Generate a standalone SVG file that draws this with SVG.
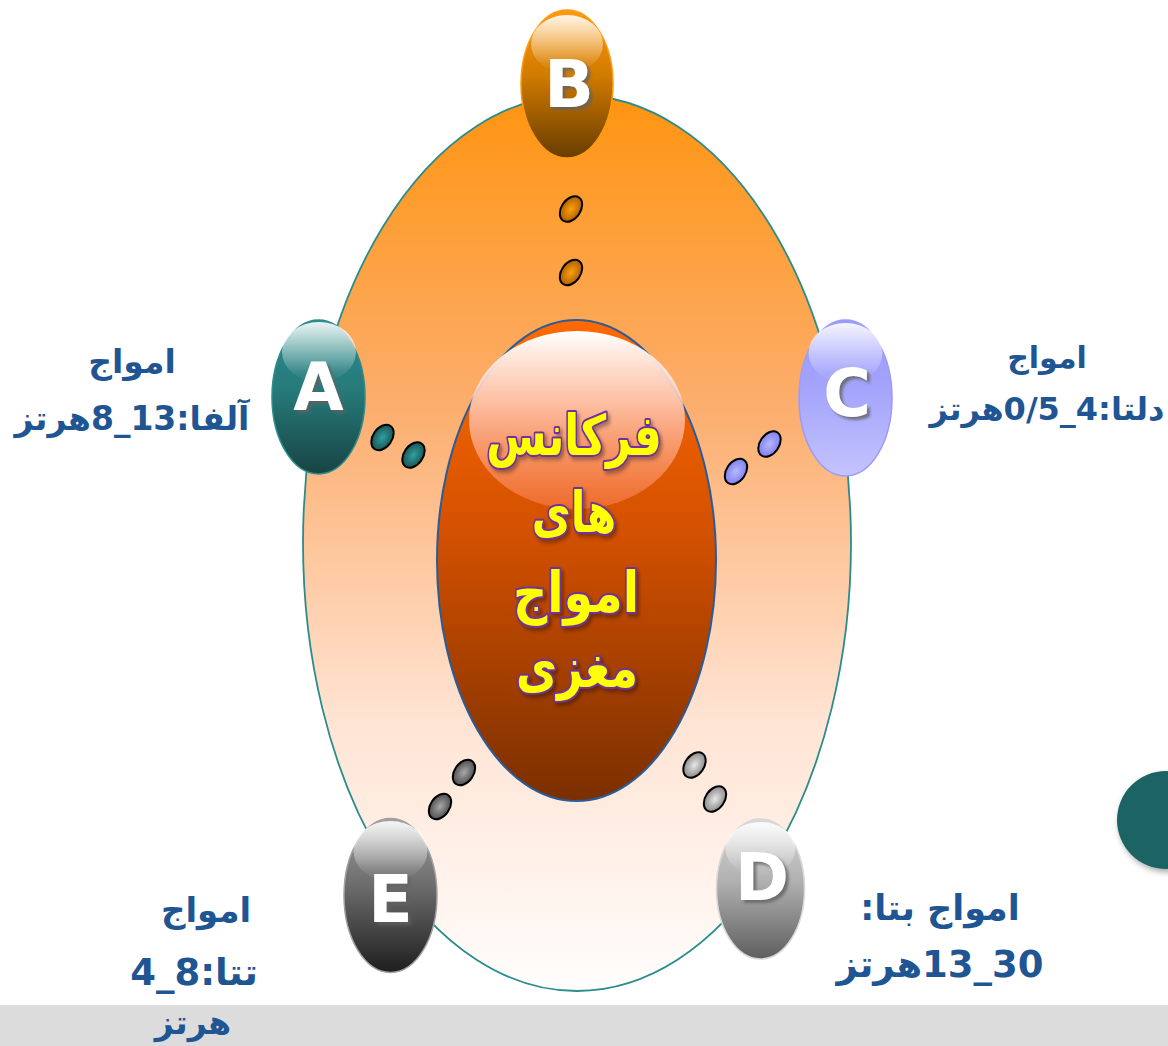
<svg xmlns="http://www.w3.org/2000/svg" width="1168" height="1046" viewBox="0 0 1168 1046">
<defs>
<style>
.lbl{font-family:"DejaVu Sans","Liberation Sans",sans-serif;font-weight:bold;fill:#1f5592;text-anchor:middle}
.ltr{font-family:"DejaVu Sans","Liberation Sans",sans-serif;font-weight:bold;fill:#ffffff;text-anchor:middle;filter:url(#tsh)}
.ctr{font-family:"DejaVu Sans",sans-serif;font-weight:bold;fill:#ffff00;stroke:#7030a0;stroke-width:4;stroke-linejoin:round;paint-order:stroke;text-anchor:middle;font-size:56px;filter:url(#csh)}
.dot{stroke:#000;stroke-width:2}
.gloss{fill:url(#gloss)}
</style>
<linearGradient id="outerG" x1="0" y1="0" x2="0" y2="1">
<stop offset="0" stop-color="#ff9410"/>
<stop offset="0.35" stop-color="#fcae6e"/>
<stop offset="0.7" stop-color="#ffe4d4"/>
<stop offset="1" stop-color="#fffdfc"/>
</linearGradient>
<linearGradient id="innerG" x1="0" y1="0" x2="0" y2="1">
<stop offset="0" stop-color="#ff6a00"/>
<stop offset="0.45" stop-color="#d25000"/>
<stop offset="1" stop-color="#7a2f00"/>
</linearGradient>
<linearGradient id="innerGloss" x1="0" y1="0" x2="0" y2="1">
<stop offset="0" stop-color="#ffffff" stop-opacity="1"/>
<stop offset="0.4" stop-color="#ffd0c0" stop-opacity="0.85"/>
<stop offset="1" stop-color="#ff8050" stop-opacity="0.55"/>
</linearGradient>
<linearGradient id="gloss" x1="0" y1="0" x2="0" y2="1">
<stop offset="0" stop-color="#ffffff" stop-opacity="0.9"/>
<stop offset="0.85" stop-color="#ffffff" stop-opacity="0.08"/>
<stop offset="1" stop-color="#ffffff" stop-opacity="0.02"/>
</linearGradient>
<linearGradient id="gB" x1="0" y1="0" x2="0" y2="1">
<stop offset="0" stop-color="#ff9a10"/>
<stop offset="0.45" stop-color="#d07a00"/>
<stop offset="1" stop-color="#683c00"/>
</linearGradient>
<linearGradient id="gA" x1="0" y1="0" x2="0" y2="1">
<stop offset="0" stop-color="#2e8c8c"/>
<stop offset="0.45" stop-color="#267a7a"/>
<stop offset="1" stop-color="#184444"/>
</linearGradient>
<linearGradient id="gC" x1="0" y1="0" x2="0" y2="1">
<stop offset="0" stop-color="#9a9aff"/>
<stop offset="0.45" stop-color="#a4a4fc"/>
<stop offset="1" stop-color="#c4c4fe"/>
</linearGradient>
<linearGradient id="gD" x1="0" y1="0" x2="0" y2="1">
<stop offset="0" stop-color="#d8d8d8"/>
<stop offset="0.45" stop-color="#b0b0b0"/>
<stop offset="1" stop-color="#5e5e5e"/>
</linearGradient>
<linearGradient id="gE" x1="0" y1="0" x2="0" y2="1">
<stop offset="0" stop-color="#a0a0a0"/>
<stop offset="0.45" stop-color="#6a6a6a"/>
<stop offset="1" stop-color="#1e1e1e"/>
</linearGradient>
<radialGradient id="dB" cx="0.5" cy="0.5" r="0.5"><stop offset="0" stop-color="#ffa010"/><stop offset="1" stop-color="#b06000"/></radialGradient>
<radialGradient id="dA" cx="0.5" cy="0.5" r="0.5"><stop offset="0" stop-color="#30a0a0"/><stop offset="1" stop-color="#1a5656"/></radialGradient>
<radialGradient id="dC" cx="0.5" cy="0.5" r="0.5"><stop offset="0" stop-color="#b8b8ff"/><stop offset="1" stop-color="#8080f0"/></radialGradient>
<radialGradient id="dD" cx="0.5" cy="0.5" r="0.5"><stop offset="0" stop-color="#e8e8e8"/><stop offset="1" stop-color="#8c8c8c"/></radialGradient>
<radialGradient id="dE" cx="0.5" cy="0.5" r="0.5"><stop offset="0" stop-color="#a8a8a8"/><stop offset="1" stop-color="#505050"/></radialGradient>
<filter id="tsh" x="-30%" y="-30%" width="160%" height="160%">
<feDropShadow dx="3" dy="3" stdDeviation="1.5" flood-color="#606060" flood-opacity="0.8"/>
</filter>
<filter id="csh" x="-20%" y="-20%" width="140%" height="140%">
<feDropShadow dx="3" dy="3" stdDeviation="2" flood-color="#000000" flood-opacity="0.35"/>
</filter>
<filter id="nsh" x="-30%" y="-30%" width="160%" height="160%">
<feDropShadow dx="2" dy="3" stdDeviation="3" flood-color="#000000" flood-opacity="0.35"/>
</filter>
</defs>

<rect x="0" y="0" width="1168" height="1046" fill="#ffffff"/>
<rect x="0" y="1005" width="1168" height="41" fill="#dcdcdc"/>

<g id="outer">
<ellipse cx="577" cy="543" rx="274" ry="448" fill="url(#outerG)" stroke="#2a8c8c" stroke-width="1.8"/>
</g>

<g id="center">
<ellipse cx="576.5" cy="560.5" rx="139.5" ry="240.5" fill="url(#innerG)" stroke="#2a5c9a" stroke-width="2"/>
<ellipse cx="577" cy="420" rx="108" ry="89" fill="url(#innerGloss)"/>
<g transform="translate(574 0) scale(0.78 1)"><text class="ctr" x="0" y="455">فرکانس</text></g>
<g transform="translate(574 0) scale(0.76 1)"><text class="ctr" x="0" y="532">های</text></g>
<g transform="translate(576 0) scale(0.85 1)"><text class="ctr" x="0" y="612">امواج</text></g>
<g transform="translate(577 0) scale(0.8 1)"><text class="ctr" x="0" y="687">مغزی</text></g>
</g>

<g id="connectors">
<ellipse class="dot" cx="571" cy="209" rx="9.5" ry="14" transform="rotate(35 571 209)" fill="url(#dB)"/>
<ellipse class="dot" cx="571" cy="272.5" rx="9.5" ry="14" transform="rotate(35 571 272.5)" fill="url(#dB)"/>
<ellipse class="dot" cx="382.5" cy="437.5" rx="9.5" ry="14" transform="rotate(35 382.5 437.5)" fill="url(#dA)"/>
<ellipse class="dot" cx="413.5" cy="455" rx="9.5" ry="14" transform="rotate(35 413.5 455)" fill="url(#dA)"/>
<ellipse class="dot" cx="769.5" cy="444" rx="9.5" ry="14" transform="rotate(35 769.5 444)" fill="url(#dC)"/>
<ellipse class="dot" cx="736" cy="471.5" rx="9.5" ry="14" transform="rotate(35 736 471.5)" fill="url(#dC)"/>
<ellipse class="dot" cx="464" cy="772.5" rx="9.5" ry="14" transform="rotate(35 464 772.5)" fill="url(#dE)"/>
<ellipse class="dot" cx="440" cy="806.5" rx="9.5" ry="14" transform="rotate(35 440 806.5)" fill="url(#dE)"/>
<ellipse class="dot" cx="694.5" cy="765" rx="9.5" ry="14" transform="rotate(35 694.5 765)" fill="url(#dD)"/>
<ellipse class="dot" cx="715" cy="799" rx="9.5" ry="14" transform="rotate(35 715 799)" fill="url(#dD)"/>
</g>

<g id="nodeB">
<ellipse cx="567" cy="84" rx="46" ry="74" fill="url(#gB)" stroke="#ff9a10" stroke-width="1.5"/>
<ellipse class="gloss" cx="567" cy="44" rx="36" ry="29"/>
<text class="ltr" x="569" y="107" font-size="65">B</text>
</g>

<g id="nodeA">
<ellipse cx="318.5" cy="397" rx="46.5" ry="77" fill="url(#gA)" stroke="#2e8c8c" stroke-width="1.5"/>
<ellipse class="gloss" cx="319" cy="352" rx="37" ry="30"/>
<text class="ltr" x="318.5" y="410" font-size="65">A</text>
</g>

<g id="nodeC">
<ellipse cx="845.5" cy="398" rx="46.5" ry="78" fill="url(#gC)" stroke="#9a9aff" stroke-width="1.5"/>
<ellipse class="gloss" cx="845.5" cy="353" rx="37" ry="30"/>
<text class="ltr" x="847" y="416" font-size="65">C</text>
</g>

<g id="nodeD">
<ellipse cx="760.5" cy="889" rx="44" ry="70" fill="url(#gD)" stroke="#d8d8d8" stroke-width="1.5"/>
<ellipse class="gloss" cx="760.5" cy="849" rx="35" ry="27"/>
<text class="ltr" x="762" y="900" font-size="65">D</text>
</g>

<g id="nodeE">
<ellipse cx="390.5" cy="895.5" rx="46.5" ry="77" fill="url(#gE)" stroke="#a0a0a0" stroke-width="1.5"/>
<ellipse class="gloss" cx="390.5" cy="851" rx="37" ry="30"/>
<text class="ltr" x="390.5" y="922" font-size="65">E</text>
</g>

<g id="sideCircle">
<circle cx="1166" cy="820" r="49" fill="#1a6464" filter="url(#nsh)"/>
</g>

<g id="labelA">
<text class="lbl" font-size="33" x="132" y="373" direction="rtl">امواج</text>
<text class="lbl" font-size="33" x="132" y="430" direction="rtl">آلفا:13_8هرتز</text>
</g>
<g id="labelC">
<text class="lbl" font-size="30" x="1047" y="368" direction="rtl">امواج</text>
<text class="lbl" font-size="32" x="1047" y="420" direction="rtl">دلتا:4_0/5هرتز</text>
</g>
<g id="labelE">
<text class="lbl" font-size="34" x="206" y="922" direction="rtl">امواج</text>
<text class="lbl" font-size="37" x="194" y="985" direction="rtl">تتا:8_4</text>
<text class="lbl" font-size="33" x="193" y="1034" direction="rtl">هرتز</text>
</g>
<g id="labelD">
<text class="lbl" font-size="35" x="940" y="920" direction="rtl">امواج بتا:</text>
<text class="lbl" font-size="37" x="940" y="977" direction="rtl">30_13هرتز</text>
</g>
</svg>
